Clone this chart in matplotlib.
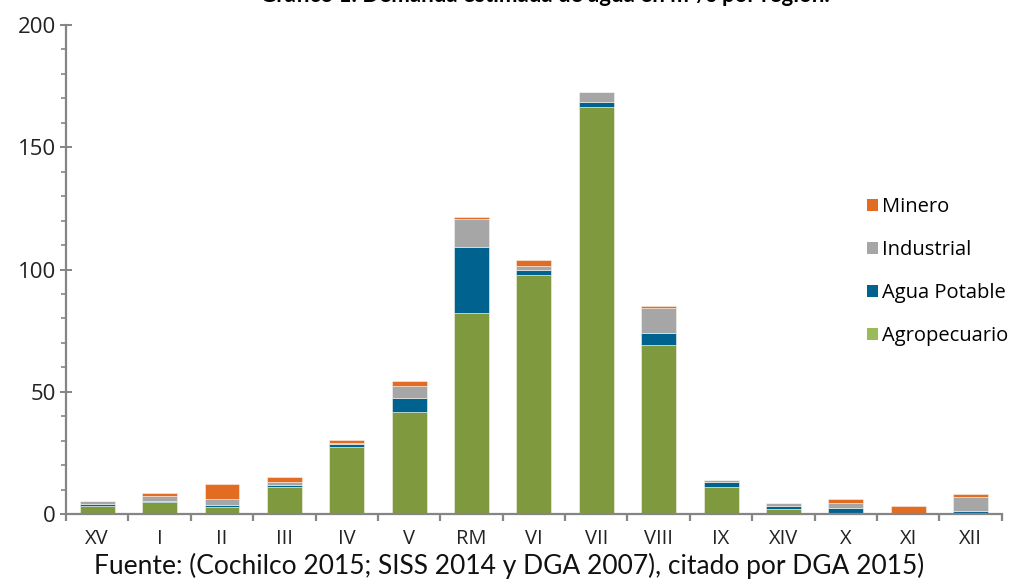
import matplotlib.pyplot as plt
from matplotlib.patches import Patch
from matplotlib.ticker import MultipleLocator
import numpy as np

regions = ["XV", "I", "II", "III", "IV", "V", "RM", "VI", "VII", "VIII", "IX", "XIV", "X", "XI", "XII"]
agropecuario = [3.2, 5.0, 3.0, 11.2, 27.2, 41.6, 82.1, 97.6, 166.6, 69.3, 11.0, 2.2, 0.5, 0.3, 0.5]
agua_potable = [0.8, 0.3, 0.8, 0.8, 1.5, 5.7, 27.2, 2.0, 1.9, 4.8, 2.2, 1.0, 1.8, 0.1, 0.8]
industrial = [1.4, 2.0, 2.2, 1.2, 0.5, 5.2, 11.5, 1.9, 4.2, 10.1, 0.7, 1.1, 2.0, 0.1, 5.8]
minero = [0.0, 1.2, 6.1, 1.9, 0.9, 2.0, 0.8, 2.3, 0.0, 0.9, 0.0, 0.1, 1.9, 2.8, 1.1]

series = [
    ("Agropecuario", agropecuario, "#7f9a3e", "#9bbb59"),
    ("Agua Potable", agua_potable, "#00628f", "#00628f"),
    ("Industrial", industrial, "#a6a6a6", "#a6a6a6"),
    ("Minero", minero, "#e36c23", "#e36c23"),
]

axis_col = "#858585"
fig = plt.figure(figsize=(10.13, 5.86), dpi=100)
ax = fig.add_axes([0.0652, 0.1229, 0.9237, 0.8344])

x = np.arange(len(regions))
bottom = np.zeros(len(regions))
for name, vals, col, _ in series:
    ax.bar(x, vals, width=0.56, bottom=bottom, color=col, edgecolor="#f4f4ee", linewidth=0.4)
    bottom += np.array(vals)

ax.set_xlim(-0.5, len(regions) - 0.5)
ax.set_ylim(0, 200)

for s in ["top", "right"]:
    ax.spines[s].set_visible(False)
for s in ["left", "bottom"]:
    ax.spines[s].set_color(axis_col)
    ax.spines[s].set_linewidth(1.6)

ax.set_xticks(x)
ax.set_xticklabels(regions, family="Open Sans", fontsize=14.5, color="#222222")
ax.set_xticks(np.arange(-0.5, len(regions), 1), minor=True)
ax.tick_params(axis="x", which="major", length=0, pad=11)
ax.tick_params(axis="x", which="minor", length=5, width=1.6, color=axis_col, direction="out")

ax.yaxis.set_major_locator(MultipleLocator(50))
ax.yaxis.set_minor_locator(MultipleLocator(10))
ax.tick_params(axis="y", which="major", length=8.5, width=1.4, color=axis_col, direction="inout",
               labelsize=16, labelcolor="#222222", pad=3)
ax.tick_params(axis="y", which="minor", length=3.8, width=1.2, color=axis_col, direction="out")
for lab in ax.get_yticklabels():
    lab.set_family("Open Sans")

handles = [Patch(facecolor=lc, edgecolor="none", label=name) for name, _, _, lc in reversed(series)]
leg = ax.legend(handles=handles, loc="upper left", bbox_to_anchor=(0.847, 0.665), frameon=False,
                prop={"family": "Open Sans", "size": 14.5}, handlelength=0.55, handleheight=0.55,
                handletextpad=0.2, labelspacing=1.15, borderaxespad=0)

fig.text(0.538, 1.008, "Gráfico 1: Demanda estimada de agua en m³/s por región.", ha="center", va="center",
         family="Lato", fontweight="bold", fontsize=16)
fig.text(0.503, 0.034, "Fuente: (Cochilco 2015; SISS 2014 y DGA 2007), citado por DGA 2015)",
         ha="center", va="center", family="Lato", fontsize=19, color="#111111")

fig.savefig("out.png", dpi=100)
